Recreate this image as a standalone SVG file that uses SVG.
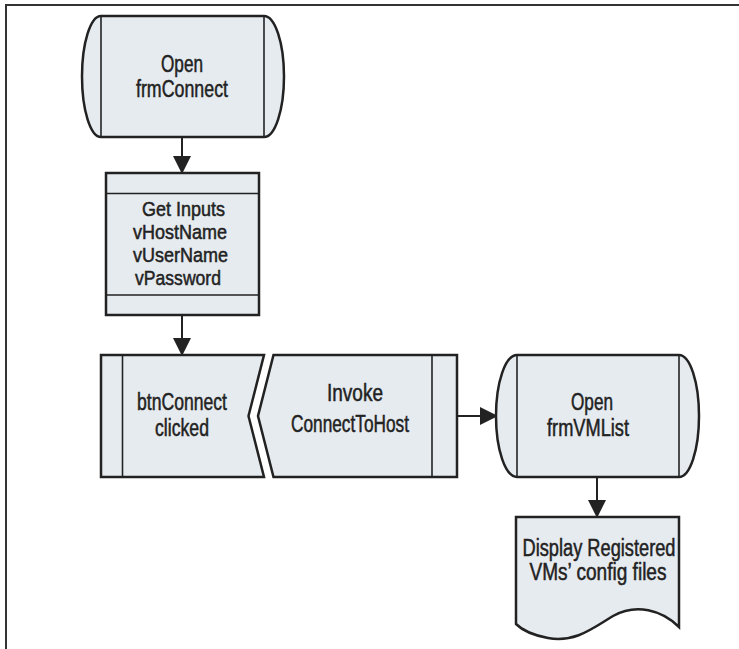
<svg xmlns="http://www.w3.org/2000/svg" width="739" height="649" viewBox="0 0 739 649">
  <style>
    .shape { fill: #e6ebef; stroke: #222; stroke-width: 2.5; stroke-linejoin: miter; }
    .inner { stroke: #222; stroke-width: 1.6; fill: none; }
    .lbl { font-family: "Liberation Sans", Arial, sans-serif; font-size: 23px; fill: #222; stroke: #222; stroke-width: 0.5; }
    .sm { font-size: 20.5px; }
    .mid { text-anchor: middle; }
    .conn { stroke: #222; stroke-width: 2; fill: none; marker-end: url(#arrow); }
    .frame { stroke: #333; stroke-width: 2; fill: none; }
  </style>
  <defs>
    <marker id="arrow" markerUnits="userSpaceOnUse" markerWidth="19" markerHeight="19" refX="18" refY="9" orient="auto">
      <path d="M0,0 L18,9 L0,18 Z" fill="#222"/>
    </marker>
  </defs>

  <!-- page frame: top and left rules -->
  <path class="frame" d="M739,5 H6 V649"/>

  <!-- connectors -->
  <g id="connectors">
    <line class="conn" x1="182" y1="137" x2="182" y2="174"/>
    <line class="conn" x1="182" y1="315" x2="182" y2="356"/>
    <line class="conn" x1="457" y1="416" x2="498" y2="416"/>
    <line class="conn" x1="597" y1="477" x2="597" y2="518"/>
  </g>

  <!-- start terminator -->
  <g id="open-frmconnect">
    <path class="shape" d="M101,16 H264 A20,60.5 0 0 1 264,137 H101 A19,60.5 0 0 1 101,16 Z"/>
    <line class="inner" x1="101" y1="16" x2="101" y2="137"/>
    <line class="inner" x1="264" y1="16" x2="264" y2="137"/>
    <text class="lbl mid" x="182" y="72" textLength="42" lengthAdjust="spacingAndGlyphs">Open</text>
    <text class="lbl mid" x="182" y="97" textLength="92" lengthAdjust="spacingAndGlyphs">frmConnect</text>
  </g>

  <!-- input box -->
  <g id="get-inputs">
    <rect class="shape" x="106" y="173" width="153" height="142"/>
    <line class="inner" x1="106" y1="193.5" x2="259" y2="193.5"/>
    <line class="inner" x1="106" y1="295" x2="259" y2="295"/>
    <text class="lbl sm" x="142" y="216" textLength="83" lengthAdjust="spacingAndGlyphs">Get Inputs</text>
    <text class="lbl sm" x="133" y="239" textLength="94" lengthAdjust="spacingAndGlyphs">vHostName</text>
    <text class="lbl sm" x="133" y="262" textLength="95" lengthAdjust="spacingAndGlyphs">vUserName</text>
    <text class="lbl sm" x="135" y="285" textLength="86" lengthAdjust="spacingAndGlyphs">vPassword</text>
  </g>

  <!-- event node -->
  <g id="btnconnect-clicked">
    <path class="shape" d="M101,355 H264 L248.5,416 L264,477 H101 Z"/>
    <line class="inner" x1="122.5" y1="355" x2="122.5" y2="477"/>
    <text class="lbl mid" x="182" y="410" textLength="90" lengthAdjust="spacingAndGlyphs">btnConnect</text>
    <text class="lbl mid" x="182" y="436" textLength="54" lengthAdjust="spacingAndGlyphs">clicked</text>
  </g>

  <!-- call node -->
  <g id="invoke-connecttohost">
    <path class="shape" d="M273.5,355 H457 V477 H273.5 L258,416 Z"/>
    <line class="inner" x1="432" y1="355" x2="432" y2="477"/>
    <text class="lbl mid" x="355" y="401" textLength="56" lengthAdjust="spacingAndGlyphs">Invoke</text>
    <text class="lbl mid" x="350" y="432" textLength="118" lengthAdjust="spacingAndGlyphs">ConnectToHost</text>
  </g>

  <!-- second terminator -->
  <g id="open-frmvmlist">
    <path class="shape" d="M517,355 H679 A20,61 0 0 1 679,477 H517 A21,61 0 0 1 517,355 Z"/>
    <line class="inner" x1="517" y1="355" x2="517" y2="477"/>
    <line class="inner" x1="679" y1="355" x2="679" y2="477"/>
    <text class="lbl mid" x="592" y="410" textLength="42" lengthAdjust="spacingAndGlyphs">Open</text>
    <text class="lbl mid" x="588" y="436" textLength="82" lengthAdjust="spacingAndGlyphs">frmVMList</text>
  </g>

  <!-- document output -->
  <g id="display-config-files">
    <path class="shape" d="M516,517 H679 V627 C662,610 636,603 613,616 C593,628 575,643 548,638 C532,635 521,629 516,624 Z"/>
    <text class="lbl mid" x="599" y="556" textLength="153" lengthAdjust="spacingAndGlyphs">Display Registered</text>
    <text class="lbl mid" x="598" y="580" textLength="137" lengthAdjust="spacingAndGlyphs">VMs’ config files</text>
  </g>
</svg>
